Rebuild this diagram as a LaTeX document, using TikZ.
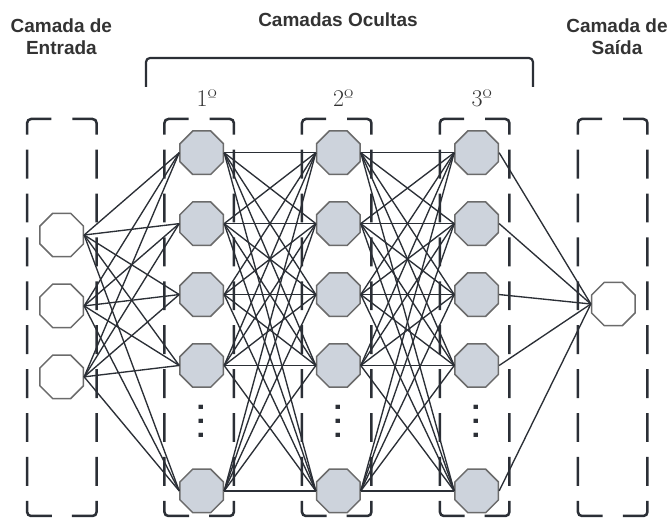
\documentclass[tikz,border=0pt]{standalone}
\usepackage{fontspec}
\newfontfamily\headfont{Liberation Sans}
\usetikzlibrary{shapes.geometric, positioning}

\definecolor{linecol}{HTML}{2B2F36}
\definecolor{textcol}{HTML}{333333}
\definecolor{nodefill}{HTML}{CDD3DC}
\definecolor{nodeedge}{HTML}{6B6B6B}

\tikzset{
  neuron/.style={draw=nodeedge, line width=1.5pt, fill=white, regular polygon, regular polygon sides=8, minimum size=47pt, inner sep=0pt},
  hidden/.style={neuron, fill=nodefill},
  layerbox/.style={draw=linecol, line width=2.5pt, rounded corners=4pt,
    dash pattern=on 38pt off 15pt on 28.9pt off 15pt on 28.9pt off 15pt on 28.9pt off 15pt on 28.9pt off 15pt on 28.9pt off 15pt on 28.9pt off 15pt on 28.9pt off 15pt on 28.9pt off 15pt on 38pt off 21pt,
    dash phase=452.7pt},
  link/.style={draw=linecol, line width=1.35pt},
  title/.style={font=\headfont\bfseries\fontsize{19}{22}\selectfont, text=textcol, align=center, inner sep=0pt},
  order/.style={font=\fontsize{24}{24}\selectfont, text=textcol, inner sep=0pt, anchor=base},
  vdots/.style={font=\headfont\bfseries\fontsize{30}{30}\selectfont, text=linecol, inner sep=0pt, rotate=90}
}

\begin{document}
\begin{tikzpicture}[x=1pt, y=-1pt]
\useasboundingbox (0,0) rectangle (670,518);

% caixas das camadas
\foreach \x in {61.85,199.15,336.7,474.65,612.7} {
  \draw[layerbox] (\x,119) -| ({\x-34.75},516) -- (\x,516);
  \draw[layerbox] (\x,119) -| ({\x+34.75},516) -- (\x,516);
}

% chave das camadas ocultas
\draw[draw=linecol, line width=2.2pt, rounded corners=4pt] (146,87) |- (339.5,58) -| (533,87);

% titulos
\node[title] (entrada) at (61.4,37.2) {Camada de\\Entrada};
\node[title, anchor=base] (ocultas) at (338,27) {Camadas Ocultas};
\node[title] (saida) at (617,37.2) {Camada de\\Sa\'ida};

\node[order] (ord1) at (206.7,106.7) {1º};
\node[order] (ord2) at (343.3,106.7) {2º};
\node[order] (ord3) at (481.7,106.7) {3º};

% entrada
\node[neuron] (E1) at (61.7,235) {};
\node[neuron, below=26pt of E1] (E2) {};
\node[neuron, below=26pt of E2] (E3) {};

% camadas ocultas
\node[hidden] (A1) at (201.7,152.7) {};
\node[hidden, below=26pt of A1] (A2) {};
\node[hidden, below=26pt of A2] (A3) {};
\node[hidden, below=26pt of A3] (A4) {};
\node[hidden, below=80.5pt of A4] (A5) {};

\node[hidden] (B1) at (338.3,152.7) {};
\node[hidden, below=26pt of B1] (B2) {};
\node[hidden, below=26pt of B2] (B3) {};
\node[hidden, below=26pt of B3] (B4) {};
\node[hidden, below=80.5pt of B4] (B5) {};

\node[hidden] (C1) at (476.7,152.7) {};
\node[hidden, below=26pt of C1] (C2) {};
\node[hidden, below=26pt of C2] (C3) {};
\node[hidden, below=26pt of C3] (C4) {};
\node[hidden, below=80.5pt of C4] (C5) {};

\node[vdots] (Adots) at (201.7,421) {.\kern5.7pt.\kern5.7pt.};
\node[vdots] (Bdots) at (338.3,421) {.\kern5.7pt.\kern5.7pt.};
\node[vdots] (Cdots) at (476.7,421) {.\kern5.7pt.\kern5.7pt.};

% saida
\node[neuron] (S) at (613.3,304) {};

% ligacoes
\foreach \i in {1,2,3}
  \foreach \j in {1,...,5}
    \draw[link] (E\i.east) -- (A\j.west);
\foreach \i in {1,...,5}
  \foreach \j in {1,...,5} {
    \draw[link] (A\i.east) -- (B\j.west);
    \draw[link] (B\i.east) -- (C\j.west);
  }
\foreach \i in {1,...,5}
  \draw[link] (C\i.east) -- (S.west);

\end{tikzpicture}
\end{document}
